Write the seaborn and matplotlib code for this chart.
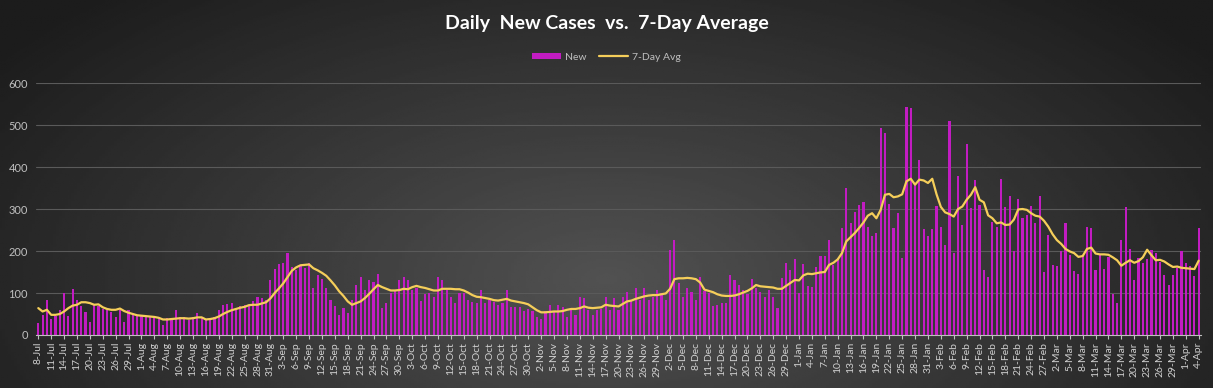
import numpy as np
import pandas as pd
import matplotlib.pyplot as plt
import seaborn as sns
from matplotlib.patches import Patch
from matplotlib.lines import Line2D

# dates: 8-Jul-2020 .. 4-Apr-2021
dates = pd.date_range('2020-07-08', '2021-04-04', freq='D')
labels = [f"{d.day}-{d.strftime('%b')}" for d in dates]

new_cases = [
    29, 48, 83, 37, 45, 60, 100, 45, 110, 83, 70, 55, 32, 72, 68, 63, 60,
    55, 44, 60, 32, 60, 50, 48, 45, 45, 42, 45, 42, 24, 40, 40, 60, 42, 42, 36, 42, 52, 40, 37,
    40, 42, 60, 72, 74, 76, 64, 68, 72, 68, 82, 90, 88, 83, 131, 157, 168, 171, 196, 163, 155, 165, 160, 172,
    111, 143, 133, 111, 83, 68, 48, 64, 52, 83, 119, 139, 107, 130, 127, 145, 64, 76, 99, 107, 131, 139, 131,
    107, 111, 82, 98, 101, 91, 138, 131, 107, 90, 76, 101, 99, 83, 79, 76, 107, 76, 83, 79, 72, 76, 107,
    66, 66, 66, 58, 61, 56, 42, 39, 56, 72, 58, 72, 66, 44, 60, 48, 91, 89, 60, 48, 60, 62, 91,
    60, 87, 60, 91, 103, 83, 111, 83, 111, 83, 91, 107, 99, 83, 203, 227, 123, 91, 111, 103, 83, 139, 105, 100,
    68, 72, 76, 76, 143, 131, 119, 107, 98, 133, 111, 103, 91, 107, 91, 64, 135, 172, 155, 180, 99, 168, 116,
    115, 163, 188, 188, 227, 167, 183, 254, 350, 266, 294, 310, 316, 258, 236, 244, 493, 482, 312, 254, 290, 183, 543,
    541, 358, 417, 252, 236, 252, 306, 258, 215, 509, 196, 379, 262, 455, 302, 370, 310, 155, 139, 270, 258, 372, 304, 331,
    199, 324, 278, 286, 306, 266, 331, 151, 238, 167, 165, 199, 266, 191, 153, 145, 187, 256, 254, 155, 191, 157, 185,
    98, 76, 227, 304, 204, 130, 183, 172, 180, 203, 196, 175, 143, 119, 143, 159, 199, 172, 165, 141, 254,
]

avg_7day = [
    64, 56, 60, 48, 48, 50, 56, 64, 70, 72, 78, 78, 76, 72, 73, 66, 62,
    60, 60, 63, 57, 53, 50, 47, 46, 45, 44, 43, 41, 37, 37, 38, 39, 40, 40, 39, 40, 42, 42, 37,
    38, 40, 44, 50, 55, 59, 62, 65, 67, 71, 72, 72, 75, 78, 87, 100, 111, 123, 138, 153, 161, 166, 167, 168,
    159, 154, 148, 141, 130, 118, 104, 93, 80, 72, 76, 80, 88, 98, 109, 119, 114, 110, 106, 106, 107, 110, 109,
    114, 117, 114, 112, 109, 106, 106, 110, 110, 110, 109, 109, 106, 101, 95, 91, 90, 88, 86, 83, 82, 84, 86,
    82, 80, 78, 76, 73, 66, 59, 54, 54, 55, 56, 56, 57, 60, 62, 62, 64, 68, 65, 64, 65, 66, 72,
    70, 69, 68, 74, 80, 82, 86, 89, 92, 94, 95, 95, 97, 99, 110, 133, 135, 135, 136, 135, 133, 125, 108, 105,
    102, 97, 94, 93, 93, 94, 97, 101, 105, 111, 119, 116, 115, 114, 113, 110, 110, 117, 124, 131, 130, 142, 146,
    145, 147, 149, 150, 167, 172, 180, 195, 223, 233, 243, 255, 268, 284, 290, 278, 298, 334, 336, 328, 330, 335, 366,
    372, 358, 370, 368, 362, 372, 335, 305, 292, 288, 282, 300, 306, 322, 334, 352, 322, 316, 285, 278, 266, 268, 262, 263,
    275, 299, 300, 298, 290, 284, 282, 272, 258, 240, 226, 217, 205, 199, 195, 186, 188, 205, 208, 194, 192, 192, 191,
    185, 178, 165, 172, 178, 172, 176, 185, 203, 190, 178, 179, 175, 168, 162, 163, 160, 159, 158, 157, 177,
]

df = pd.DataFrame({'idx': np.arange(len(dates)), 'new': new_cases, 'avg': avg_7day})

sns.set_style('dark')
plt.rcParams['font.family'] = ['Lato', 'DejaVu Sans']

fig = plt.figure(figsize=(12.13, 3.88), dpi=100)

# dark radial background
bg = fig.add_axes([0, 0, 1, 1], zorder=-10)
gx, gy = np.meshgrid(np.linspace(0, 1, 400), np.linspace(0, 1, 200))
r = np.sqrt(((gx - 0.5) / 0.62) ** 2 + ((gy - 0.72) / 1.0) ** 2)
shade = 0.32 - 0.21 * np.clip(r, 0, 1)
bg.imshow(shade, cmap='gray', vmin=0, vmax=1, aspect='auto', extent=[0, 1, 0, 1], origin='upper')
bg.axis('off')

ax = fig.add_axes([0.0298, 0.1366, 0.9602, 0.6494])
ax.set_facecolor('none')

sns.barplot(data=df, x='idx', y='new', color='#C21CC2', width=0.5, saturation=1,
            linewidth=0, edgecolor='none', ax=ax, zorder=2)
sns.lineplot(data=df, x='idx', y='avg', color='#F5CE5A', linewidth=1.6, ax=ax, zorder=3)

ax.set_xlim(-0.5, len(dates) - 0.5)
ax.set_ylim(0, 600)
ax.set_yticks(range(0, 601, 100))
ax.yaxis.grid(True, color='#5a5a5a', linewidth=0.8)
ax.xaxis.grid(False)
ax.set_axisbelow(True)
ax.set_xticks(range(0, len(dates), 3))
ax.set_xticklabels(labels[::3], rotation=90, fontsize=7.5, color='#d0d0d0')
ax.tick_params(axis='y', labelsize=8, colors='#bfbfbf', length=0, pad=6)
ax.tick_params(axis='x', length=3, color='#bfbfbf', pad=2, bottom=True)
ax.set_xlabel('')
ax.set_ylabel('')
for s in ['top', 'right', 'left']:
    ax.spines[s].set_visible(False)
ax.spines['bottom'].set_color('#bfbfbf')
ax.spines['bottom'].set_linewidth(0.8)

fig.text(0.5, 0.94, 'Daily  New Cases  vs.  7-Day Average', ha='center', va='center',
         fontsize=14, fontweight='bold', color='white')

handles = [Patch(facecolor='#C21CC2', edgecolor='none'),
           Line2D([0], [0], color='#F5CE5A', linewidth=1.6)]
fig.legend(handles, ['New', '7-Day Avg'], loc='center', bbox_to_anchor=(0.5, 0.853), ncol=2,
           frameon=False, fontsize=7.5, labelcolor='#bfbfbf', handlelength=2.8, handleheight=0.6,
           columnspacing=1.2, handletextpad=0.4)

fig.savefig('out.png', dpi=100)
